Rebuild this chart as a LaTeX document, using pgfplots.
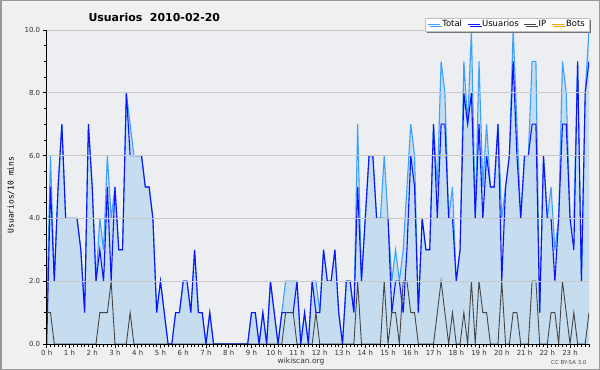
\documentclass[border=0pt]{standalone}
\usepackage{fontspec}
\setmainfont{DejaVu Sans}
\setmonofont{DejaVu Sans Mono}
\usepackage{pgfplots}
\usepackage{pgfplotstable}
\pgfplotsset{compat=1.18}
\usetikzlibrary{shadows}
\definecolor{outerbg}{RGB}{240,240,240}
\definecolor{plotbg}{RGB}{236,238,241}
\definecolor{fillc}{RGB}{198,221,240}
\definecolor{totalc}{RGB}{60,160,255}
\definecolor{userc}{RGB}{10,20,255}
\definecolor{ipc}{RGB}{70,70,70}
\definecolor{botc}{RGB}{255,165,0}
\definecolor{gridc}{RGB}{200,200,200}

\pgfplotstableread{
i T U IP B
0 1 0 1 0
1 6 5 1 0
2 2 2 0 0
3 5 5 0 0
4 7 7 0 0
5 4 4 0 0
6 4 4 0 0
7 4 4 0 0
8 4 4 0 0
9 3 3 0 0
10 1 1 0 0
11 7 7 0 0
12 5 5 0 0
13 2 2 0 0
14 4 3 1 0
15 3 2 1 0
16 6 5 1 0
17 4 2 2 0
18 5 5 0 0
19 3 3 0 0
20 3 3 0 0
21 8 8 0 0
22 7 6 1 0
23 6 6 0 0
24 6 6 0 0
25 6 6 0 0
26 5 5 0 0
27 5 5 0 0
28 4 4 0 0
29 1 1 0 0
30 2 2 0 0
31 1 1 0 0
32 0 0 0 0
33 0 0 0 0
34 1 1 0 0
35 1 1 0 0
36 2 2 0 0
37 2 2 0 0
38 1 1 0 0
39 3 3 0 0
40 1 1 0 0
41 1 1 0 0
42 0 0 0 0
43 1 1 0 0
44 0 0 0 0
45 0 0 0 0
46 0 0 0 0
47 0 0 0 0
48 0 0 0 0
49 0 0 0 0
50 0 0 0 0
51 0 0 0 0
52 0 0 0 0
53 0 0 0 0
54 1 1 0 0
55 1 1 0 0
56 0 0 0 0
57 1 1 0 0
58 0 0 0 0
59 2 2 0 0
60 1 1 0 0
61 0 0 0 0
62 1 1 0 0
63 2 1 1 0
64 2 1 1 0
65 2 1 1 0
66 2 2 0 0
67 0 0 0 0
68 1 1 0 0
69 0 0 0 0
70 2 2 0 0
71 2 1 1 0
72 1 1 0 0
73 3 3 0 0
74 2 2 0 0
75 2 2 0 0
76 3 3 0 0
77 1 1 0 0
78 0 0 0 0
79 2 2 0 0
80 2 2 0 0
81 1 1 0 0
82 7 5 2 0
83 2 2 0 0
84 4 4 0 0
85 6 6 0 0
86 6 6 0 0
87 4 4 0 0
88 4 4 0 0
89 6 4 2 0
90 4 4 0 0
91 2 1 1 0
92 3 2 1 0
93 2 2 0 0
94 3 1 2 0
95 5 3 2 0
96 7 6 1 0
97 6 5 1 0
98 1 1 0 0
99 4 4 0 0
100 3 3 0 0
101 3 3 0 0
102 7 7 0 0
103 5 4 1 0
104 9 7 2 0
105 8 7 1 0
106 4 4 0 0
107 5 4 1 0
108 2 2 0 0
109 3 3 0 0
110 9 8 1 0
111 7 7 0 0
112 10 8 2 0
113 4 4 0 0
114 9 7 2 0
115 5 4 1 0
116 7 6 1 0
117 5 5 0 0
118 5 5 0 0
119 7 7 0 0
120 4 2 2 0
121 5 5 0 0
122 6 6 0 0
123 10 9 1 0
124 7 6 1 0
125 4 4 0 0
126 6 6 0 0
127 6 6 0 0
128 9 7 2 0
129 9 7 2 0
130 1 1 0 0
131 6 6 0 0
132 4 4 0 0
133 5 4 1 0
134 3 2 1 0
135 4 4 0 0
136 9 7 2 0
137 8 7 1 0
138 4 4 0 0
139 4 3 1 0
140 9 9 0 0
141 2 2 0 0
142 8 8 0 0
143 10 9 1 0
}\datatab

\begin{document}
\begin{tikzpicture}
\fill[outerbg] (0bp,0bp) rectangle (600bp,370bp);
\draw[black!40, line width=1.5bp] (0.75bp,0.75bp) rectangle (599.25bp,369.25bp);
\begin{axis}[
  at={(46.7bp,26bp)}, anchor=south west,
  scale only axis, width=542.3bp, height=314bp,
  xmin=0, xmax=143, ymin=0, ymax=10,
  axis background/.style={fill=plotbg},
  axis on top,
  axis x line*=bottom, axis y line*=left,
  axis line style={black, line width=0.9bp},
  xtick={0,6,...,138},
  xticklabels={0 h,1 h,2 h,3 h,4 h,5 h,6 h,7 h,8 h,9 h,10 h,11 h,12 h,13 h,14 h,15 h,16 h,17 h,18 h,19 h,20 h,21 h,22 h,23 h},
  minor xtick={0,1,...,143},
  ytick={0,2,4,6,8,10},
  yticklabels={0.0,2.0,4.0,6.0,8.0,10.0},
  minor ytick={0,0.5,...,10},
  tick align=outside,
  major tick length=4bp, minor tick length=3bp,
  tick style={black, line width=0.6bp},
  ymajorgrids, grid style={gridc, line width=0.9bp},
  tick label style={font=\fontsize{7}{8}\selectfont, text=black!80},
  xticklabel style={yshift=1bp},
  yticklabel style={xshift=1bp},
  legend columns=4,
  legend style={at={(axis description cs:1.0,1.039)}, anchor=north east,
    draw=black!25, fill=white, font=\fontsize{8.5}{9}\selectfont,
    inner xsep=2bp, inner ysep=0.5bp,
    general shadow={fill=black!55, shadow xshift=2bp, shadow yshift=-2bp},
    /tikz/every even column/.append style={column sep=3bp}},
  legend cell align=left,
  legend image code/.code={\draw[#1] (0bp,0bp) -- (12bp,0bp);},
]
\addplot[fill=fillc, draw=none, forget plot] table[x=i, y=T] {\datatab} \closedcycle;
\addplot[totalc, line width=1.1bp] table[x=i, y=T] {\datatab};
\addplot[userc, line width=1.1bp] table[x=i, y=U] {\datatab};
\addplot[ipc, line width=0.9bp] table[x=i, y=IP] {\datatab};
\addplot[botc, line width=0.9bp] table[x=i, y=B] {\datatab};
\legend{Total,Usuarios,IP,Bots}
\end{axis}
\node[anchor=west, font=\bfseries\fontsize{11}{13}\selectfont] at (85bp,353bp) {Usuarios\ \ 2010-02-20};
\node[rotate=90, font=\ttfamily\fontsize{8}{9}\selectfont] at (11bp,175bp) {Usuarios/10 mins};
\node[font=\fontsize{7.5}{9}\selectfont, text=black!80] at (301bp,9bp) {wikiscan.org};
\node[anchor=east, font=\fontsize{5.5}{6}\selectfont, text=black!70] at (590bp,7bp) {CC BY-SA 3.0};
\end{tikzpicture}
\end{document}
